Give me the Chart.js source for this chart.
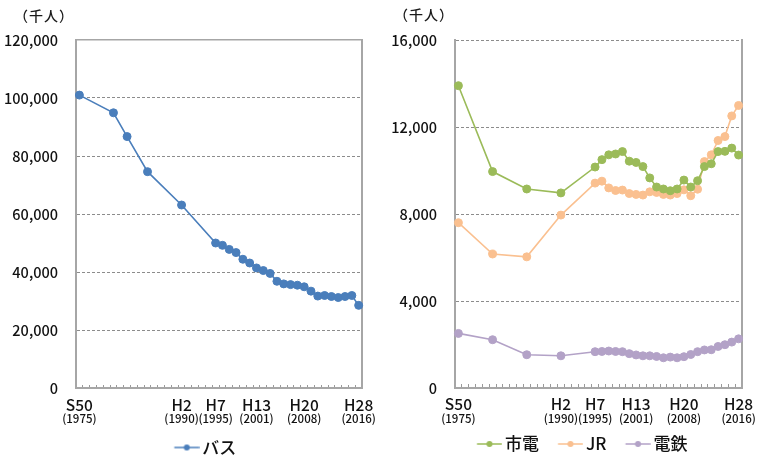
<!DOCTYPE html>
<html><head><meta charset="utf-8">
<script src="https://cdn.jsdelivr.net/npm/chart.js@4.4.1/dist/chart.umd.min.js"></script>
<style>
html,body{margin:0;padding:0;background:#fff;}
body{width:768px;height:459px;overflow:hidden;position:relative;font-family:"Noto Sans CJK JP","Noto Sans",sans-serif;}
.pane{position:absolute;top:0;width:384px;height:459px;}
.unit{position:absolute;font-size:14px;letter-spacing:1px;color:#1a1a1a;line-height:1;font-weight:500;}
canvas{display:block;}
</style></head><body>
<div class="pane" style="left:0"><canvas id="c1" width="384" height="459" style="width:384px;height:459px"></canvas><div class="unit" style="left:14px;top:8px">（千人）</div></div>
<div class="pane" style="left:384px"><canvas id="c2" width="384" height="459" style="width:384px;height:459px"></canvas><div class="unit" style="left:10px;top:7px">（千人）</div></div>
<script>
// ---- data ----
const years = [1975,1976,1977,1978,1979,1980,1981,1982,1983,1984,1985,1986,1987,1988,1989,1990,1991,1992,1993,1994,1995,1996,1997,1998,1999,2000,2001,2002,2003,2004,2005,2006,2007,2008,2009,2010,2011,2012,2013,2014,2015,2016];
const eraYears  = [1975, 1990, 1995, 2001, 2008, 2016];
const eraLabels = ['S50','H2','H7','H13','H20','H28'];
const adLabels  = ['(1975)','(1990)','(1995)','(2001)','(2008)','(2016)'];

const bus = [101000,null,null,null,null,94900,null,86700,null,null,74600,null,null,null,null,63100,null,null,null,null,
  50000,49200,47800,46700,44400,43100,41400,40500,39500,36800,35900,35650,35450,34900,33400,31700,31900,31550,31200,31550,31900,28500];
const shiden = [13900,null,null,null,null,9950,null,null,null,null,9150,null,null,null,null,8970,null,null,null,null,
  10160,10500,10720,10760,10870,10430,10370,10180,9660,9240,9150,9070,9150,9560,9240,9530,10180,10310,10870,10880,11030,10710];
const jr = [7600,null,null,null,null,6160,null,null,null,null,6030,null,null,null,null,7950,null,null,null,null,
  9420,9510,9200,9080,9100,8940,8900,8870,9020,8990,8900,8870,8940,9110,8840,9140,10410,10720,11380,11560,12510,12990];
const dentetsu = [2510,null,null,null,null,2220,null,null,null,null,1530,null,null,null,null,1480,null,null,null,null,
  1670,1680,1700,1680,1670,1580,1520,1480,1480,1450,1390,1420,1390,1440,1540,1670,1750,1760,1910,1990,2110,2260];

const busLabel = 'バス';
const railLabels = ['市電','JR','電鉄'];
const C_BUS = '#4A7EBB', C_GREEN = '#9BBB59', C_JR = '#FAC090', C_PURPLE = '#B3A2C7';

Chart.defaults.font.family = '"Noto Sans CJK JP","Noto Sans",sans-serif';
Chart.defaults.font.weight = '500';
Chart.defaults.color = '#111';

function makeMarker(color){
  const c = document.createElement('canvas');
  c.width = 40; c.height = 10;
  const g = c.getContext('2d');
  g.strokeStyle = color; g.lineWidth = 1.5;
  g.beginPath(); g.moveTo(14.75,5); g.lineTo(39.75,5); g.stroke();
  g.fillStyle = color; g.beginPath(); g.arc(27.25,5,3,0,Math.PI*2); g.fill();
  return c;
}

function ds(label, data, color){
  return {label, data, borderColor: color, backgroundColor: color, borderWidth: 1.6,
    pointRadius: 4, pointBorderWidth: 1, pointBackgroundColor: color, pointBorderColor: color,
    pointHoverRadius: 4, spanGaps: true, tension: 0, xAxisID: 'x', yAxisID: 'y'};
}

function eraOf(v){ const i = eraYears.indexOf(years[v]); return i < 0 ? '' : eraLabels[i]; }
function adOf(v){ const i = eraYears.indexOf(years[v]); return i < 0 ? '' : adLabels[i]; }

function build(canvasId, datasets, p){
  const markers = datasets.map(d => makeMarker(d.borderColor));
  const scales = {
    x: {type: 'category', position: 'bottom', weight: 0, offset: true,
      grid: {display: true, drawOnChartArea: false, drawTicks: true, offset: true, tickLength: p.tickLen, tickColor: '#9a9a9a', tickWidth: 1},
      border: {display: true, color: '#a6a6a6', width: 2},
      ticks: {autoSkip: false, maxRotation: 0, minRotation: 0, padding: p.xPad, font: {size: 15.5, weight: '500'}, color: '#111', callback: eraOf},
      afterFit: s => { s.height = 24; }},
    x2: {type: 'category', position: 'bottom', weight: 1, offset: true,
      grid: {display: false, drawTicks: false}, border: {display: false},
      ticks: {autoSkip: false, maxRotation: 0, minRotation: 0, padding: 0, font: {size: 11.5}, color: '#111', callback: adOf},
      afterFit: s => { s.height = p.x2h; }},
    y: {type: 'linear', position: 'left', min: 0, max: p.yMax,
      ticks: {stepSize: p.step, padding: 18, font: {size: 14.5, weight: '500'}, color: '#111'},
      grid: {drawTicks: false, color: c => (c.tick && (c.tick.value === 0 || (p.topSolid && c.tick.value === p.yMax))) ? 'rgba(0,0,0,0)' : '#8c8c8c', lineWidth: 1},
      border: {display: true, color: '#a6a6a6', width: 2, dash: [3,2]},
      afterFit: s => { s.width = p.yW; }},
    yr: {type: 'linear', position: 'right', min: 0, max: p.yMax,
      ticks: {display: false}, grid: {display: false, drawTicks: false},
      border: {display: true, color: '#a6a6a6', width: 2},
      afterFit: s => { s.width = 0; }}
  };
  if (p.topSolid){
    scales.xt = {type: 'category', position: 'top', offset: true,
      ticks: {display: false}, grid: {display: false, drawTicks: false},
      border: {display: true, color: '#a6a6a6', width: 1.5},
      afterFit: s => { s.height = 0; }};
  }
  const legendShift = {id: 'legendShift', afterLayout(chart){
    if (chart.legend){ chart.legend.left += p.legDx; chart.legend.right += p.legDx; }
  }};
  return new Chart(document.getElementById(canvasId), {
    type: 'line',
    data: {labels: years, datasets},
    plugins: [legendShift],
    options: {
      responsive: false, animation: false,
      layout: {padding: {left: 0, right: p.padR, top: 40, bottom: p.padB}},
      plugins: {
        tooltip: {enabled: false},
        legend: {position: 'bottom', align: 'center',
          labels: {usePointStyle: true, pointStyleWidth: 28.5, padding: 10, color: '#111', font: {size: 17, weight: '500'},
            generateLabels: chart => {
              const items = Chart.defaults.plugins.legend.labels.generateLabels(chart);
              items.forEach((it, i) => { it.pointStyle = markers[i]; });
              return items;
            }}}
      },
      scales
    }
  });
}

build('c1', [ds(busLabel, bus, C_BUS)],
  {padR: 21, padB: -7, yW: 76, yMax: 120000, step: 20000, tickLen: -3, xPad: 10.5, x2h: 17, topSolid: true, legDx: 19.3});
build('c2', [ds(railLabels[0], shiden, C_GREEN), ds(railLabels[1], jr, C_JR), ds(railLabels[2], dentetsu, C_PURPLE)],
  {padR: 26, padB: -3.5, yW: 71, yMax: 16000, step: 4000, tickLen: -4, xPad: 11, x2h: 13.5, topSolid: false, legDx: 14.7});
</script>
</body></html>
